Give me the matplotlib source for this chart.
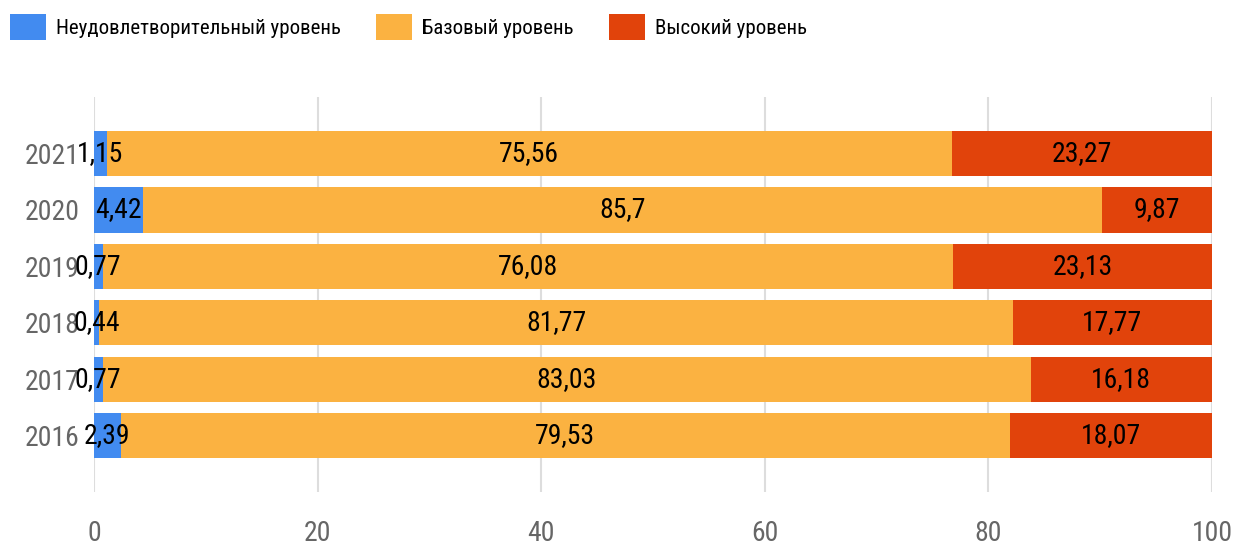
import matplotlib
matplotlib.use("Agg")
import matplotlib.pyplot as plt
import numpy as np

plt.rcParams['font.family'] = ['Roboto Condensed', 'DejaVu Sans']

years = ['2016', '2017', '2018', '2019', '2020', '2021']
low = [2.39, 0.77, 0.44, 0.77, 4.42, 1.15]
base = [79.53, 83.03, 81.77, 76.08, 85.7, 75.56]
high = [18.07, 16.18, 17.77, 23.13, 9.87, 23.27]
names = ['Неудовлетворительный уровень', 'Базовый уровень', 'Высокий уровень']
colors = ['#428BF0', '#FBB241', '#E1430B']

fig = plt.figure(figsize=(12.33, 5.46), dpi=100)
ax = fig.add_axes([0.0762, 0.099, 0.9068, 0.723])

y = np.arange(len(years))
left = np.zeros(len(years))
for vals, nm, c in zip([low, base, high], names, colors):
    vals = np.array(vals)
    ax.barh(y, vals, left=left, height=0.8, color=c, label=nm, zorder=2)
    for yi, l, v in zip(y, left, vals):
        ax.text(l + v / 2, yi, str(v).replace('.', ','), ha='center', va='center',
                fontsize=20, color='black', zorder=3)
    left = left + vals

ax.set_xlim(0, 100)
ax.set_ylim(-1, 6)
ax.set_xticks([0, 20, 40, 60, 80, 100])
ax.set_yticks(y)
ax.set_yticklabels(years)
for lb in ax.get_yticklabels():
    lb.set_ha('left')
ax.tick_params(axis='y', length=0, pad=50, labelsize=20, labelcolor='#666666')
ax.tick_params(axis='x', length=0, pad=20, labelsize=20, labelcolor='#666666')
ax.grid(axis='x', color='#DDDDDD', linewidth=1.5, zorder=0)
for s in ax.spines.values():
    s.set_visible(False)

# легенда сверху слева
fig.legend(loc='center left', bbox_to_anchor=(10 / 1233, 1 - 27 / 546), ncol=3, frameon=False,
           fontsize=15, handlelength=1.73, handleheight=1.47, handletextpad=0.48,
           columnspacing=1.68, borderpad=0, borderaxespad=0)

fig.savefig('out.png', dpi=100)
